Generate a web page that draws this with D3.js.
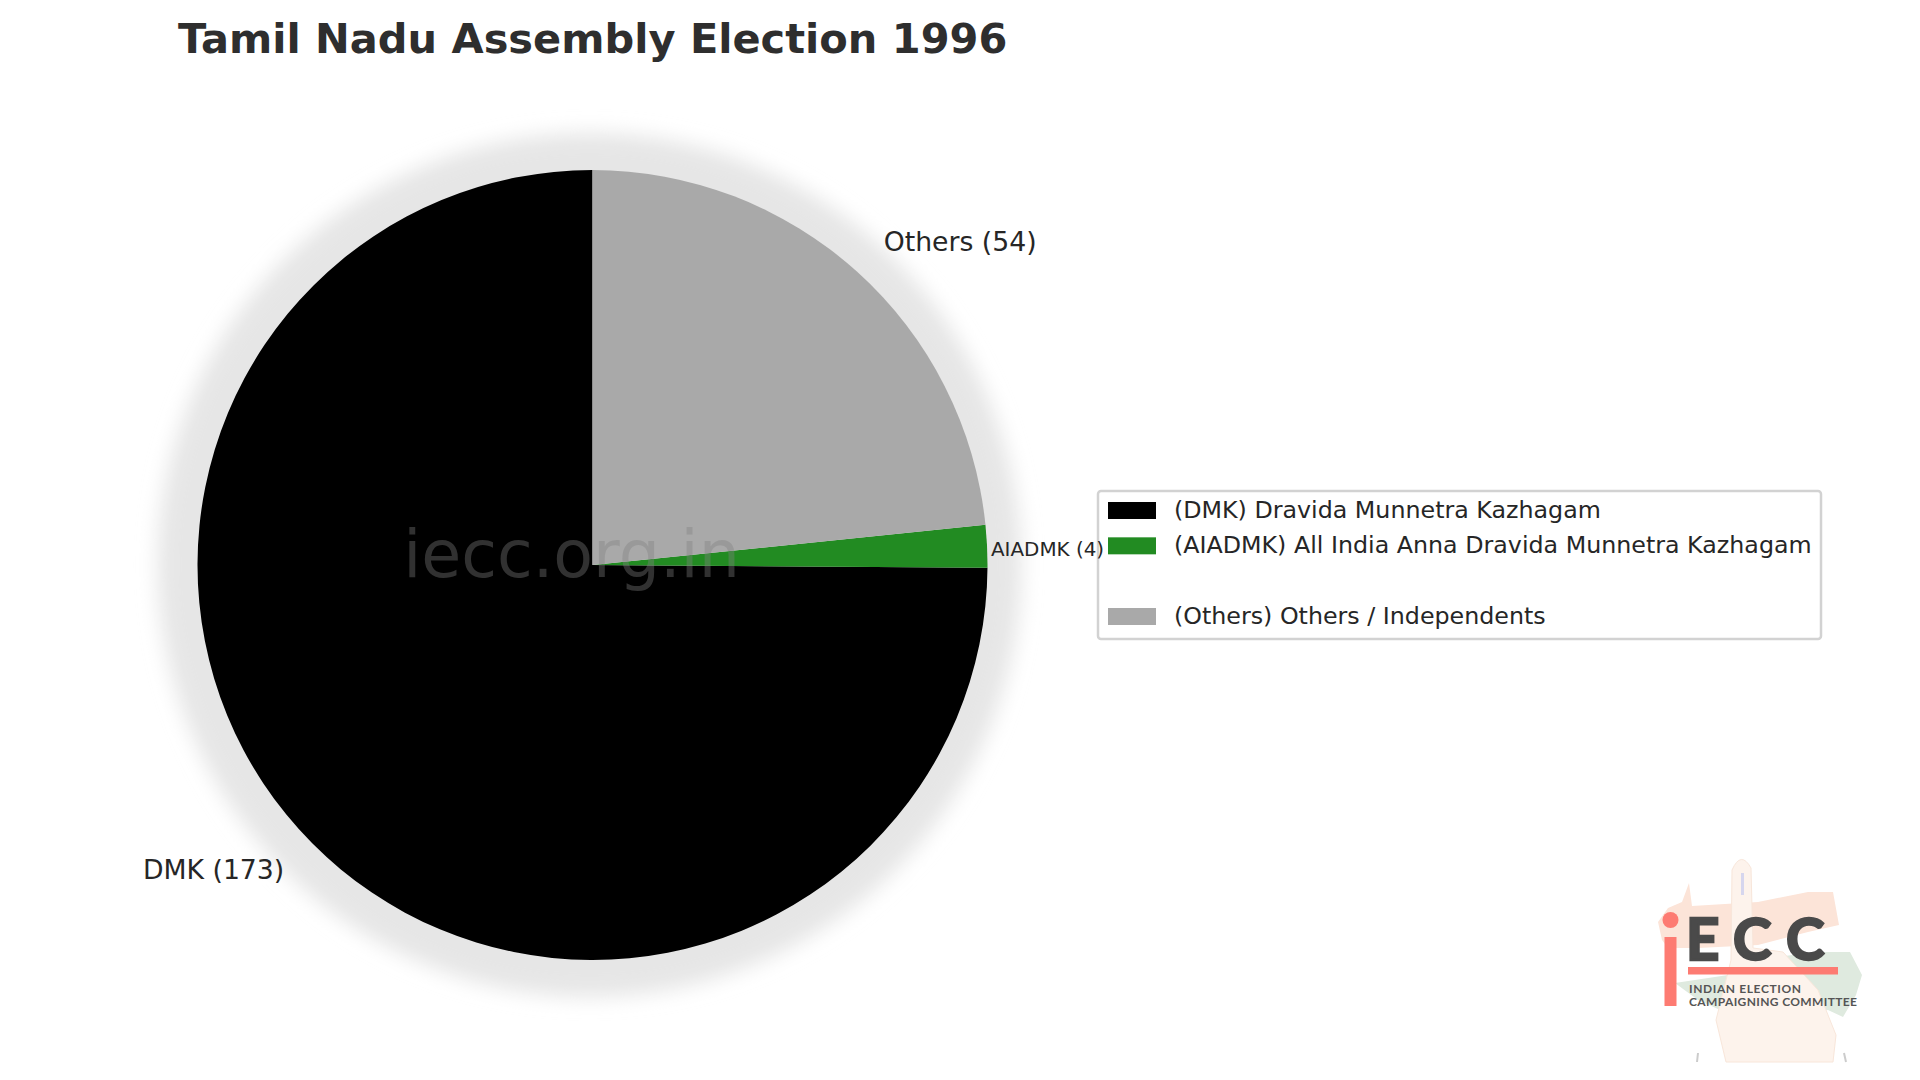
<!DOCTYPE html>
<html>
<head>
<meta charset="utf-8">
<title>Tamil Nadu Assembly Election 1996</title>
<script src="https://cdn.jsdelivr.net/npm/d3@7"></script>
<style>
html, body { margin: 0; padding: 0; background: #fff; }
svg { display: block; }
text { font-family: "DejaVu Sans", sans-serif; }
</style>
</head>
<body>
<div id="chart"></div>
<script>
//data
var parties = ['DMK', 'AIADMK', 'Others'];
var seats = [173, 4, 54];
var colors = ['#000000', '#228b22', '#a9a9a9'];
var legendLabels = [
    '(DMK) Dravida Munnetra Kazhagam',
    '(AIADMK) All India Anna Dravida Munnetra Kazhagam',
    '',
    '(Others) Others / Independents'
];
var legendColors = ['#000000', '#228b22', null, '#a9a9a9'];
//end data

var width = 1920, height = 1080;
var cx = 592.5, cy = 565, radius = 395;

var svg = d3.select('#chart').append('svg')
    .attr('width', width)
    .attr('height', height)
    .attr('viewBox', '0 0 ' + width + ' ' + height);

var defs = svg.append('defs');
defs.append('filter').attr('id', 'halo')
    .attr('x', '-20%').attr('y', '-20%').attr('width', '140%').attr('height', '140%')
    .append('feGaussianBlur').attr('stdDeviation', 10);

svg.append('text')
    .attr('x', 178)
    .attr('y', 53)
    .attr('font-size', 41.5)
    .attr('font-weight', 'bold')
    .attr('fill', '#2e2e2e')
    .text('Tamil Nadu Assembly Election 1996');

//pie, first slice starts at 12 o'clock and goes counter clockwise
var pie = d3.pie().sort(null).startAngle(0).endAngle(-2 * Math.PI);
var slices = pie(seats);
var arc = d3.arc().innerRadius(0).outerRadius(radius);

var gPie = svg.append('g').attr('transform', 'translate(' + cx + ',' + cy + ')');

gPie.append('circle')
    .attr('cx', -3)
    .attr('cy', 0)
    .attr('r', radius + 37)
    .attr('fill', '#e6e6e6')
    .attr('filter', 'url(#halo)');

gPie.selectAll('path.slice')
    .data(slices)
    .enter().append('path')
    .attr('class', 'slice')
    .attr('d', arc)
    .attr('fill', function(d, i){ return colors[i]; });

//watermark
svg.append('text')
    .attr('x', 571.5)
    .attr('y', 577)
    .attr('text-anchor', 'middle')
    .attr('font-size', 65)
    .attr('fill', '#808080')
    .attr('fill-opacity', 0.38)
    .text('iecc.org.in');

//legend
var gLegend = svg.append('g');
gLegend.append('rect')
    .attr('x', 1098).attr('y', 491)
    .attr('width', 723).attr('height', 148)
    .attr('rx', 3)
    .attr('fill', '#fff')
    .attr('stroke', '#d2d2d2')
    .attr('stroke-width', 2.5);

var legendY = d3.scalePoint()
    .domain(d3.range(legendLabels.length))
    .range([510, 616]);

gLegend.selectAll('rect.swatch')
    .data(legendColors)
    .enter().filter(function(d){ return d; }).append('rect')
    .attr('class', 'swatch')
    .attr('x', 1108)
    .attr('y', function(d){ return legendY(legendColors.indexOf(d)) - 8; })
    .attr('width', 48)
    .attr('height', 17)
    .attr('fill', function(d){ return d; });

gLegend.selectAll('text')
    .data(legendLabels)
    .enter().append('text')
    .attr('x', 1174)
    .attr('y', function(d, i){ return legendY(i) + 8; })
    .attr('font-size', 23.75)
    .attr('fill', '#262626')
    .text(function(d){ return d; });

//slice labels, the small slice sits close to the edge with a smaller font.
//own group after the legend because the small one runs over the legend border
function labelPos(d, i){
    var r = radius * (i === 1 ? 1.01 : 1.1);
    return d3.arc().innerRadius(r).outerRadius(r).centroid(d);
}

var gLabels = svg.append('g').attr('transform', 'translate(' + cx + ',' + cy + ')');

gLabels.selectAll('text.sliceLabel')
    .data(slices)
    .enter().append('text')
    .attr('class', 'sliceLabel')
    .attr('x', function(d, i){ return labelPos(d, i)[0]; })
    .attr('y', function(d, i){ return labelPos(d, i)[1]; })
    .attr('dy', function(d, i){ return i === 1 ? '0.5em' : '0.3em'; })
    .attr('text-anchor', function(d, i){ return labelPos(d, i)[0] > 0 ? 'start' : 'end'; })
    .attr('font-size', function(d, i){ return i === 1 ? 19.9 : 26.7; })
    .attr('fill', '#262626')
    .text(function(d, i){ return parties[i] + ' (' + seats[i] + ')'; });

//logo
var gLogo = svg.append('g').attr('transform', 'translate(1638,840)');
gLogo.append('path').attr('fill', '#fce4d8')
    .attr('d', 'M24,100 L20,82 L30,68 L44,62 L51,43 L54,66 L120,62 L170,52 L195,52 L201,85 L170,92 L120,105 L60,108 L30,108Z');
gLogo.append('path').attr('fill', '#dfeadf')
    .attr('d', 'M37,143 L90,135 L130,118 L180,112 L212,112 L224,135 L218,155 L205,177 L190,170 L100,178 L60,160Z');
gLogo.append('path').attr('fill', '#fdf3ec').attr('stroke', '#f8e6da')
    .attr('d', 'M94,30 Q103,10 113,28 L115,108 L145,112 L180,150 L198,195 L195,222 L88,222 L78,180 L93,120Z');
gLogo.append('rect').attr('x', 103).attr('y', 33).attr('width', 3).attr('height', 22).attr('fill', '#d6d6ee');
gLogo.append('path').attr('fill', 'none').attr('stroke', '#ccc').attr('stroke-width', 2)
    .attr('d', 'M60,213 L59,222 M206,213 L208,222');
gLogo.append('circle').attr('cx', 32.5).attr('cy', 80).attr('r', 8).attr('fill', '#fd7b72');
gLogo.append('rect').attr('x', 26.5).attr('y', 97).attr('width', 12).attr('height', 69).attr('fill', '#fd7b72');
gLogo.append('rect').attr('x', 50).attr('y', 127).attr('width', 150).attr('height', 7.5).attr('fill', '#fd7b72');
gLogo.append('text').attr('x', '48 95 148').attr('y', 120).attr('font-size', 58).attr('font-weight', 700)
    .style('font-family', 'Lato').attr('fill', '#4a4a4a')
    .attr('stroke', '#4a4a4a').attr('stroke-width', 2.5).text('ECC');
gLogo.append('text').attr('x', 51).attr('y', 153).attr('font-size', 12).attr('font-weight', 700)
    .style('font-family', 'Lato').attr('fill', '#555').attr('textLength', 112).text('INDIAN ELECTION');
gLogo.append('text').attr('x', 51).attr('y', 166).attr('font-size', 12).attr('font-weight', 700)
    .style('font-family', 'Lato').attr('fill', '#555').attr('textLength', 168).text('CAMPAIGNING COMMITTEE');
</script>
</body>
</html>
